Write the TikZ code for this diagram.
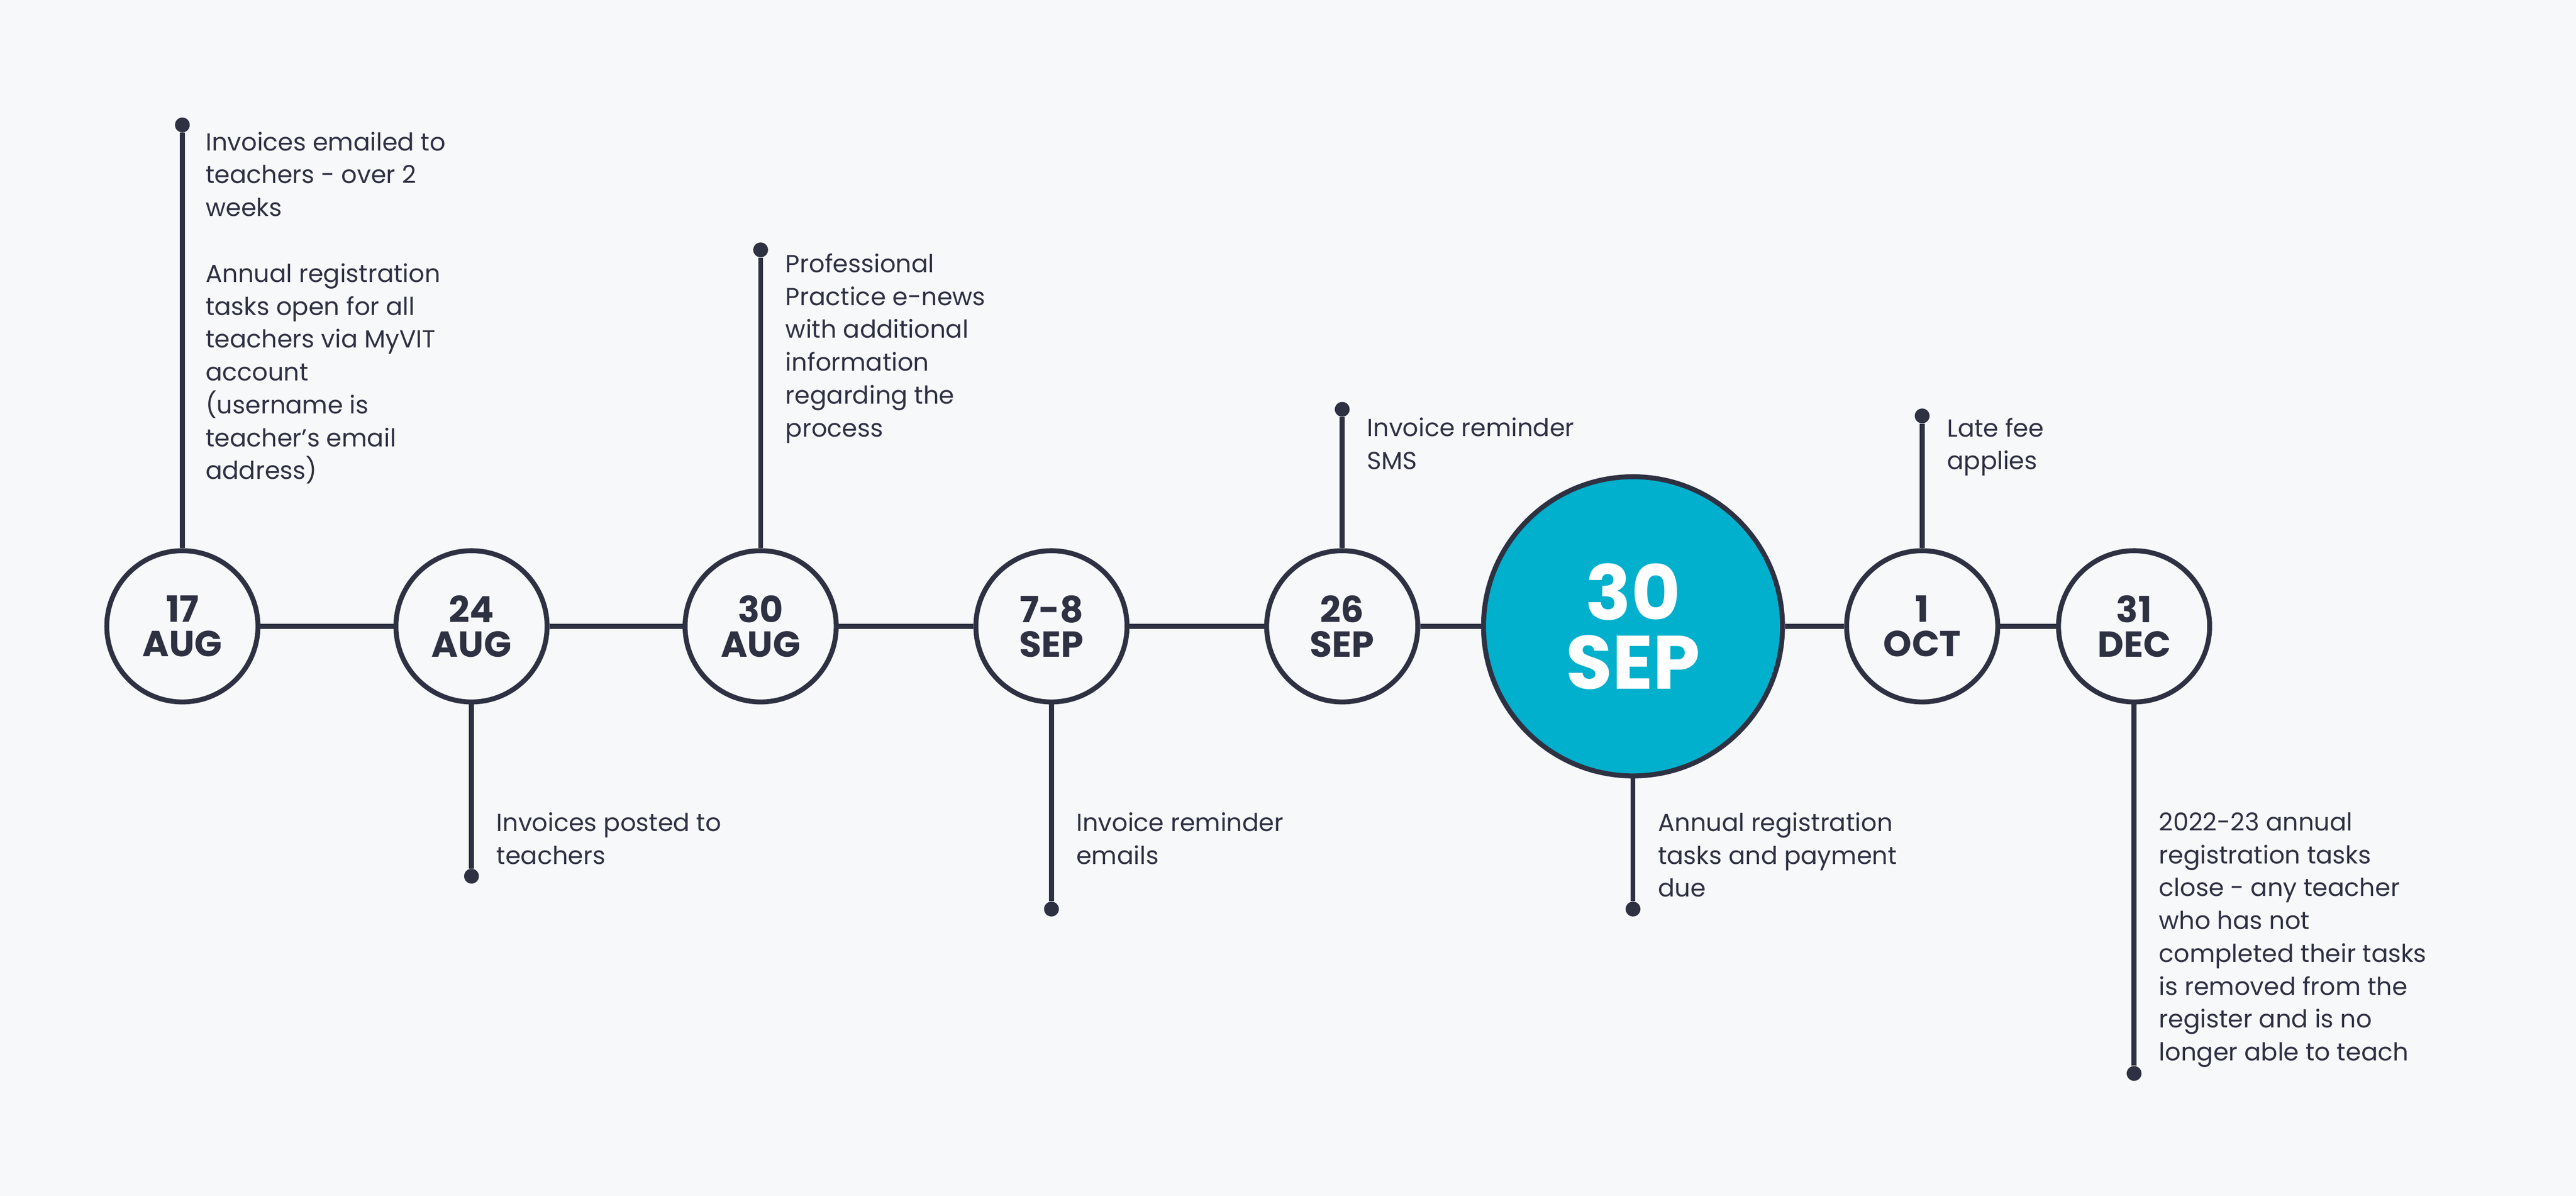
\documentclass[tikz,border=0pt]{standalone}
\usepackage{fontspec}
\setmainfont{Poppins}
\definecolor{bg}{HTML}{F7F8FA}
\definecolor{ink}{HTML}{2E3142}
\definecolor{teal}{HTML}{00B0CC}
\begin{document}
\begin{tikzpicture}[x=1pt,y=-1pt,
  dot/.style={circle,fill=ink,inner sep=0,minimum size=9pt},
  day/.style={circle,draw=ink,line width=3pt,fill=bg,minimum size=92pt,inner sep=0,align=center,font=\fontsize{22}{21}\selectfont\bfseries,text=ink},
  big/.style={circle,draw=ink,line width=3pt,fill=teal,minimum size=182pt,inner sep=0,align=center,font=\fontsize{46}{42}\selectfont\bfseries,text=white},
  lbl/.style={anchor=north west,inner sep=0,align=left,font=\fontsize{15}{20}\selectfont,text=ink},
  ln/.style={draw=ink,line width=3pt}]
\fill[bg] (0,0) rectangle (1568,727.5);
\useasboundingbox (0,0) rectangle (1568,727.5);
\node[day] (a) at (111,381) {17\\AUG};
\node[day] (b) at (287,381) {24\\AUG};
\node[day] (c) at (463,381) {30\\AUG};
\node[day] (d) at (640,381) {7-8\\SEP};
\node[day] (e) at (817,381) {26\\SEP};
\node[big] (f) at (994,381) {30\\SEP};
\node[day] (g) at (1170,381) {1\\OCT};
\node[day] (h) at (1299,381) {31\\DEC};
\foreach \p/\q in {a/b,b/c,c/d,d/e,e/f,f/g,g/h} \draw[ln] (\p) -- (\q);
\node[dot] (da) at (111,76) {};
\node[dot] (db) at (287,533) {};
\node[dot] (dc) at (463,152) {};
\node[dot] (dd) at (640,553) {};
\node[dot] (de) at (817,249) {};
\node[dot] (df) at (994,553) {};
\node[dot] (dg) at (1170,253) {};
\node[dot] (dh) at (1299,653) {};
\foreach \p/\q in {a/da,b/db,c/dc,d/dd,e/de,f/df,g/dg,h/dh} \draw[ln] (\p) -- (\q);
\node[lbl] (ta) at (125,80) {Invoices emailed to\\teachers - over 2\\weeks\\[20pt]Annual registration\\tasks open for all\\teachers via MyVIT\\account\\(username is\\teacher’s email\\address)};
\node[lbl] (tb) at (302,494) {Invoices posted to\\teachers};
\node[lbl] (tc) at (478,154) {Professional\\Practice e-news\\with additional\\information\\regarding the\\process};
\node[lbl] (td) at (655,494) {Invoice reminder\\emails};
\node[lbl] (te) at (832,254) {Invoice reminder\\SMS};
\node[lbl] (tf) at (1009,494) {Annual registration\\tasks and payment\\due};
\node[lbl] (tg) at (1185,254) {Late fee\\applies};
\node[lbl] (th) at (1314,494) {2022-23 annual\\registration tasks\\close - any teacher\\who has not\\completed their tasks\\is removed from the\\register and is no\\longer able to teach};
\end{tikzpicture}
\end{document}
